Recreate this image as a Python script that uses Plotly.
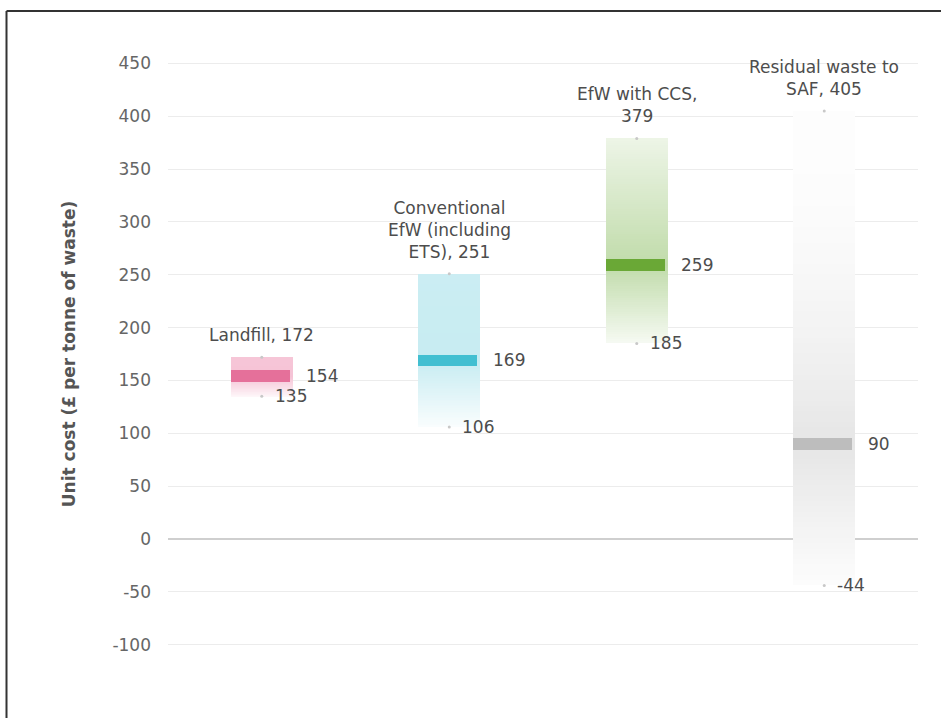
import plotly.graph_objects as go

# ---------------- data ----------------
categories = ["Landfill", "Conventional EfW (including ETS)", "EfW with CCS", "Residual waste to SAF"]
label_names = ["Landfill", "Conventional<br>EfW (including<br>ETS)", "EfW with CCS", "Residual waste to<br>SAF"]
label_seps = [", ", ", ", ",<br>", ", "]
max_vals = [172, 251, 379, 405]
median_vals = [154, 169, 259, 90]
min_vals = [135, 106, 185, -44]
y_ticks = [-100, -50, 0, 50, 100, 150, 200, 250, 300, 350, 400, 450]

# ---------------- styles ----------------
base_rgb = [(232, 112, 156), (69, 192, 211), (106, 170, 53), (175, 175, 175)]
median_colors = ["#e5709a", "#42bfd1", "#6aa836", "#bdbdbd"]
# alpha at top, median, bottom and falloff exponents (above / below median)
alpha_prof = [
    (0.40, 0.42, 0.06, 1.0, 1.0),
    (0.28, 0.30, 0.03, 1.0, 1.0),
    (0.12, 0.42, 0.06, 1.0, 1.0),
    (0.02, 0.32, 0.03, 2.0, 1.0),
]
N_SEG = 90
BAR_W = 0.33
MED_W = 0.315
MED_H = 11.0
FONT = "DejaVu Sans"
TXT = "#4d4d4d"


def blend(rgb, a):
    r, g, b = rgb
    return "rgb({},{},{})".format(round(255 - (255 - r) * a), round(255 - (255 - g) * a),
                                  round(255 - (255 - b) * a))


fig = go.Figure()

for i, cat in enumerate(categories):
    lo, hi, md = min_vals[i], max_vals[i], median_vals[i]
    a_top, a_mid, a_bot, p_up, p_dn = alpha_prof[i]
    step = (hi - lo) / N_SEG
    bases, heights, cols = [], [], []
    for k in range(N_SEG):
        y0 = lo + k * step
        yc = y0 + step / 2
        if yc >= md:
            t = (hi - yc) / (hi - md) if hi > md else 0
            a = a_top + (a_mid - a_top) * (t ** p_up)
        else:
            t = (yc - lo) / (md - lo) if md > lo else 0
            a = a_bot + (a_mid - a_bot) * (t ** p_dn)
        bases.append(y0)
        heights.append(step * 1.5 if k < N_SEG - 1 else step)
        cols.append(blend(base_rgb[i], a))
    fig.add_trace(go.Bar(
        x=[i] * N_SEG, y=heights, base=bases, width=BAR_W,
        marker=dict(color=cols, line=dict(width=0)),
        hoverinfo="skip", showlegend=False,
    ))
    # median bar
    fig.add_trace(go.Bar(
        x=[i], y=[MED_H], base=[md - MED_H / 2], width=MED_W, offset=-BAR_W / 2,
        marker=dict(color=median_colors[i], line=dict(width=0)),
        name=cat, showlegend=False,
    ))

# small dots at min and max
fig.add_trace(go.Scatter(
    x=list(range(len(categories))) * 2, y=min_vals + max_vals, mode="markers",
    marker=dict(size=3, color="#c8c8c8"), hoverinfo="skip", showlegend=False,
))

# annotations
for i in range(len(categories)):
    fig.add_annotation(x=i, y=max_vals[i], text=f"{label_names[i]}{label_seps[i]}{max_vals[i]}",
                       showarrow=False, yanchor="bottom", xanchor="center", yshift=10,
                       font=dict(family=FONT, size=17, color=TXT), align="center")
    fig.add_annotation(x=i + BAR_W / 2, y=median_vals[i], text=str(median_vals[i]),
                       showarrow=False, xanchor="left", yanchor="middle", xshift=11,
                       font=dict(family=FONT, size=17, color=TXT))
    fig.add_annotation(x=i, y=min_vals[i], text=str(min_vals[i]),
                       showarrow=False, xanchor="left", yanchor="middle", xshift=11,
                       font=dict(family=FONT, size=17, color=TXT))

L, R, T, B = 168, 23, 37, 47
W, H = 941, 718
pw, ph = W - L - R, H - T - B
fx = lambda px: (px - L) / pw
fy = lambda py: 1 - (py - T) / ph

fig.update_layout(
    width=W, height=H,
    margin=dict(l=L, r=R, t=T, b=B),
    paper_bgcolor="white", plot_bgcolor="white",
    barmode="overlay", bargap=0,
    font=dict(family=FONT, size=17, color=TXT),
    xaxis=dict(range=[-0.5, 3.5], showticklabels=False, showgrid=False,
               zeroline=False, showline=False, ticks=""),
    yaxis=dict(range=[-125, 475], tickvals=y_ticks, ticktext=[str(v) for v in y_ticks],
               showgrid=True, gridcolor="#ececec", gridwidth=1, zeroline=True,
               zerolinecolor="#cfcfcf", zerolinewidth=1.5, showline=False,
               ticks="", ticklabelstandoff=16,
               tickfont=dict(family=FONT, size=17, color="#666666"),
               title=dict(text="<b>Unit cost (£ per tonne of waste)</b>",
                          font=dict(family=FONT, size=17, color="#555555"),
                          standoff=32)),
    shapes=[
        dict(type="line", xref="paper", yref="paper", x0=fx(6.5), x1=fx(6.5),
             y0=fy(730), y1=fy(11), line=dict(color="#333333", width=2)),
        dict(type="line", xref="paper", yref="paper", x0=fx(6.5), x1=fx(960),
             y0=fy(11), y1=fy(11), line=dict(color="#333333", width=2)),
    ],
)

fig.write_html("out.html")
